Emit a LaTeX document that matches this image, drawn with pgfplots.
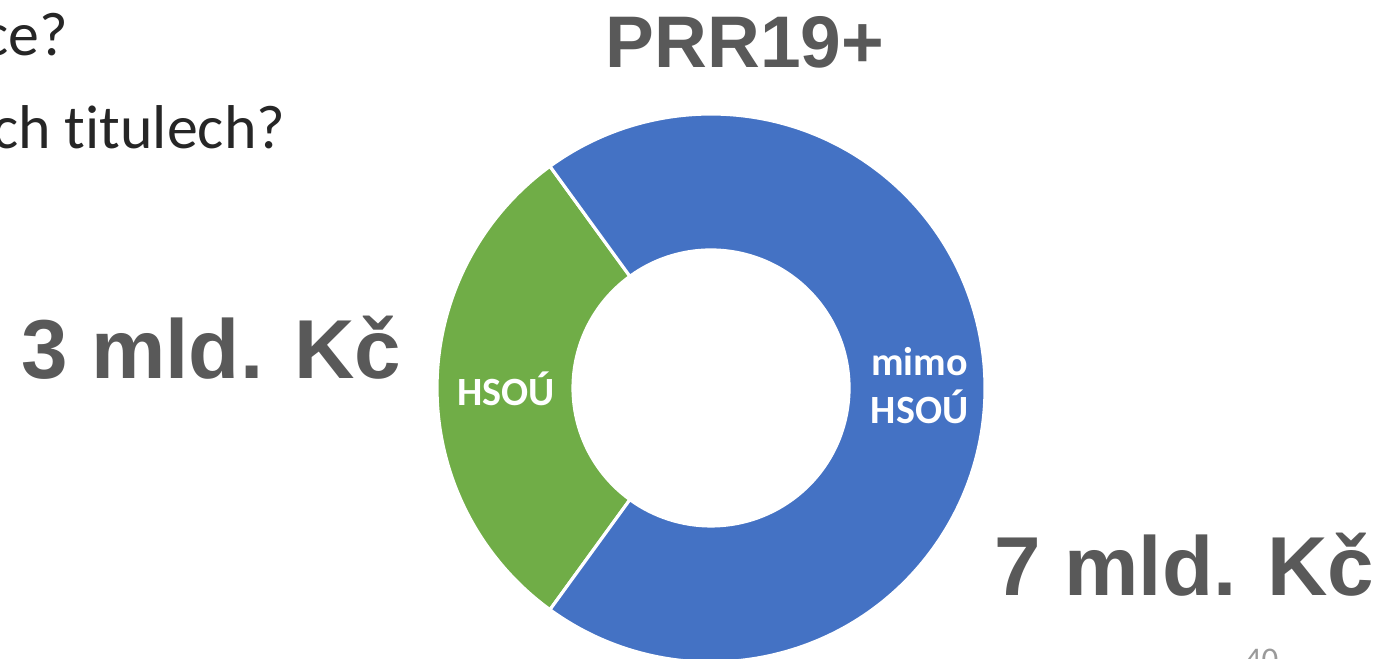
\documentclass[border=0pt]{standalone}
\usepackage{pgfplots}
\usepackage{pgfplotstable}
\pgfplotsset{compat=1.18}
\usepackage{fontspec}
\setmainfont[Ligatures=NoCommon]{Carlito}
\newfontfamily\arialfont{Liberation Sans}
\definecolor{cblue}{HTML}{4472C4}
\definecolor{cgreen}{HTML}{70AD47}
\definecolor{cgrey}{HTML}{595959}
\definecolor{ctext}{HTML}{262626}
\definecolor{cpage}{HTML}{9A9A9A}

\pgfplotstableread{
label value
HSOU 3
mimo 7
}\donutdata
\pgfplotstablegetelem{0}{value}\of\donutdata \let\vA\pgfplotsretval
\pgfplotstablegetelem{1}{value}\of\donutdata \let\vB\pgfplotsretval
\pgfmathsetmacro\spanA{360*\vA/(\vA+\vB)}
\pgfmathsetmacro\startA{180-\spanA/2}
\pgfmathsetmacro\endA{180+\spanA/2}
\pgfmathsetmacro\endB{\startA+360}
\def\cx{711}
\def\cy{271}
\def\Ro{274}
\def\Ri{138}

\begin{document}
\begin{tikzpicture}
\path[use as bounding box, clip] (0,0) rectangle (13.95cm,6.59cm);
\begin{axis}[
  at={(0,0)}, anchor=south west,
  scale only axis, width=13.95cm, height=6.59cm,
  xmin=0, xmax=1395, ymin=0, ymax=659,
  hide axis, clip=true,
]
% green segment (HSOU)
\fill[cgreen, draw=white, line width=0.9pt]
  (axis cs:{\cx+\Ro*cos(\startA)},{\cy+\Ro*sin(\startA)})
  arc[start angle=\startA, end angle=\endA, radius=2.74cm]
  -- (axis cs:{\cx+\Ri*cos(\endA)},{\cy+\Ri*sin(\endA)})
  arc[start angle=\endA, end angle=\startA, radius=1.38cm] -- cycle;
% blue segment (mimo HSOU)
\fill[cblue, draw=white, line width=0.9pt]
  (axis cs:{\cx+\Ro*cos(\endA)},{\cy+\Ro*sin(\endA)})
  arc[start angle=\endA, end angle=\endB, radius=2.74cm]
  -- (axis cs:{\cx+\Ri*cos(\endB)},{\cy+\Ri*sin(\endB)})
  arc[start angle=\endB, end angle=\endA, radius=1.38cm] -- cycle;
\end{axis}
% texts (1 px = 0.01 cm; y measured from the bottom)
\node[anchor=base east, inner sep=0pt, text=ctext, font=\fontsize{17.6}{20}\selectfont] at (0.685cm,{(659-55)*0.01cm}) {ce?};
\node[anchor=base east, inner sep=0pt, text=ctext, font=\fontsize{17.6}{20}\selectfont] at (2.86cm,{(659-148)*0.01cm}) {ch titulech?};
\node[anchor=base, inner sep=0pt, text=cgrey, font=\arialfont\bfseries\fontsize{20.8}{24}\selectfont] at (7.45cm,{(659-67)*0.01cm}) {PRR19+};
\node[anchor=base, inner sep=0pt, text=cgrey, font=\arialfont\bfseries\fontsize{23.8}{28}\selectfont] at (2.115cm,{(659-378)*0.01cm}) {3 mld. Kč};
\node[anchor=base, inner sep=0pt, text=cgrey, font=\arialfont\bfseries\fontsize{23.8}{28}\selectfont] at (11.845cm,{(659-595)*0.01cm}) {7 mld. Kč};
\node[anchor=base, inner sep=0pt, text=white, font=\bfseries\fontsize{11.4}{13}\selectfont] at (5.06cm,{(659-405)*0.01cm}) {HSOÚ};
\node[anchor=base, inner sep=0pt, text=white, font=\bfseries\fontsize{11.4}{13}\selectfont] at (9.195cm,{(659-375)*0.01cm}) {mimo};
\node[anchor=base, inner sep=0pt, text=white, font=\bfseries\fontsize{11.4}{13}\selectfont] at (9.195cm,{(659-423)*0.01cm}) {HSOÚ};
\node[anchor=base, inner sep=0pt, text=cpage, font=\fontsize{9.4}{11}\selectfont] at (12.615cm,{(659-671)*0.01cm}) {40};
\end{tikzpicture}
\end{document}
